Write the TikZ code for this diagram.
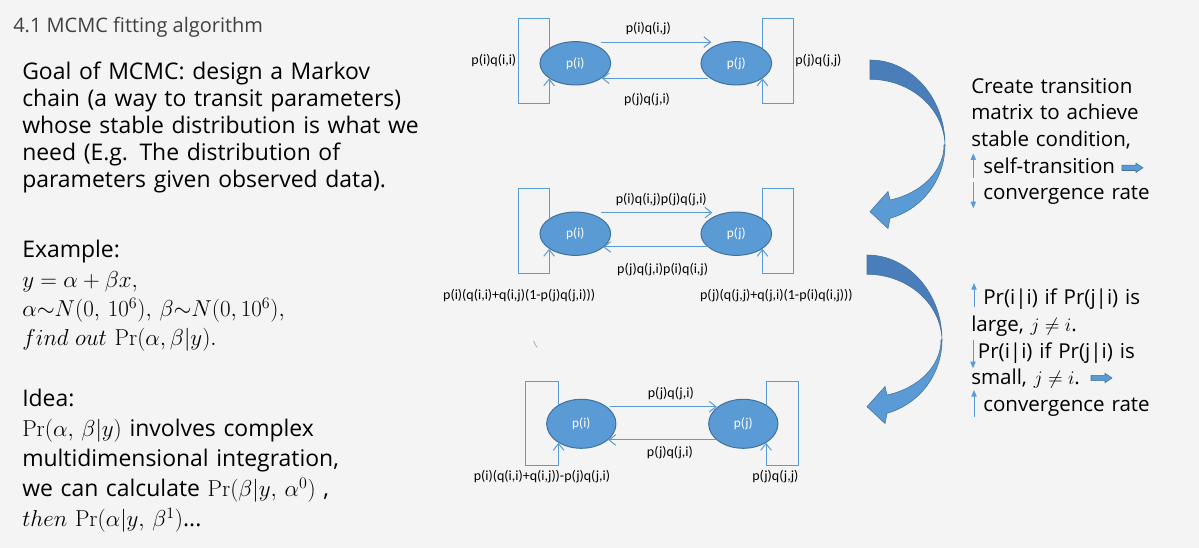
\documentclass[tikz,border=0pt]{standalone}
\usepackage{amsmath}
\usepackage[no-math]{fontspec}
\setmainfont{Open Sans}
\newfontfamily\smallfont{Carlito}
\usepackage{tikz}
\usetikzlibrary{shapes,arrows.meta,calc,positioning}

\definecolor{accent}{HTML}{5B9BD5}
\definecolor{accentdark}{HTML}{41719C}
\definecolor{ribbon}{HTML}{4A7EBB}
\definecolor{slidebg}{HTML}{F4F4F4}
\definecolor{titlegray}{HTML}{404040}

% curved ribbon arrow, back part dark, front part with head light
\newcommand{\bentarrow}{%
  \filldraw[fill=ribbon, draw=accentdark, line width=0.4pt]
    (870,60) .. controls (911.4,60) and (945,98.1) .. (945,145)
    .. controls (944,108.7) and (910.9,79.3) .. (870,79.3) -- cycle;
  \filldraw[fill=accent, draw=accentdark, line width=0.4pt]
    (945,145) .. controls (945,179.1) and (922.5,209.2) .. (890,218.3)
    -- (888,228.5) -- (870,211.7) -- (888,191.5) -- (890,200)
    .. controls (922,193.1) and (944,170.6) .. (944,145) -- cycle;
}
% small block arrow pointing right
\newcommand{\fatarrow}[1]{%
  \filldraw[fill=accent, draw=accentdark, line width=0.4pt, shift={#1}]
    (-10.5,-2.7) -- (3.5,-2.7) -- (3.5,-4.7) -- (10.5,0)
    -- (3.5,4.7) -- (3.5,2.7) -- (-10.5,2.7) -- cycle;
}

\begin{document}
\begin{tikzpicture}[x=0.75pt, y=-0.75pt, node distance=120.75pt]
        \tikzstyle{state} = [ellipse, draw=accentdark, line width=0.75pt, fill=accent,
        text=white, font=\smallfont\fontsize{10}{12}\selectfont,
        minimum width=53pt, minimum height=32.5pt, inner sep=0pt]
        \tikzset{line/.style={draw, line width=0.75pt, color=accent, -{Straight Barb[length=5pt,width=8pt]}}}
        \tikzset{lbl/.style={text=black, font=\smallfont\fontsize{10.5}{12}\selectfont, inner sep=1pt}}
        \tikzset{updown/.style={draw, line width=0.75pt, color=accent, -{Triangle[length=5pt,width=4pt]}}}
        \tikzset{body/.style={anchor=base west, inner sep=0pt, align=left, text width=330pt}}

        \fill [slidebg] (0,0) rectangle (1199,548);
        \useasboundingbox (0,0) rectangle (1199,548);

        % left column
        \node [anchor=base west, inner sep=0pt, text=titlegray,
          font=\fontsize{15}{18}\selectfont] (title) at (13,33) {4.1 MCMC fitting algorithm};
        \node [body, font=\fontsize{17.2}{20.25}\selectfont] (goal) at (22,80)
          {Goal of MCMC: design a Markov\\ chain (a way to transit parameters)\\
           whose stable distribution is what we\\ need (E.g. The distribution of\\
           parameters given observed data).};
        \node [body, font=\fontsize{17.2}{22}\selectfont] (example) at (22,258)
          {Example:\\ $y=\alpha+\beta x,$\\ $\alpha{\sim}N(0,\,10^6),\,\beta{\sim}N(0,10^6),$\\
           $find\;out\,\Pr(\alpha,\beta|y).$};
        \node [body, font=\fontsize{17.2}{22.5}\selectfont] (idea) at (22,406.7)
          {Idea:\\ $\Pr(\alpha,\,\beta|y)$ involves complex\\ multidimensional integration,\\
           we can calculate $\Pr(\beta|y,\,\alpha^0)$ ,\\ $then\,\Pr(\alpha|y,\,\beta^1)$...};

        % first chain
        \node [state] (pi1) at (575.3,63.3) {p(i)};
        \node [state, right of=pi1] (pj1) {p(j)};
        \path [line] ($(pi1.north)+(26,1)$) -- node [lbl, above=4pt, xshift=-6pt] {p(i)q(i,j)} ($(pj1.north)+(-25,1)$);
        \path [line] ($(pj1.south)+(-28,-7.2)$) -- node [lbl, below=10pt, xshift=-6pt] {p(j)q(j,i)} ($(pi1.south)+(26.4,-7.2)$);
        \path [line] (pi1.150) -- ++(0,-30) -| ++(-31,85) node [lbl, pos=0.75, left] {p(i)q(i,i)} -| (pi1.210);
        \path [line] (pj1.30) -- ++(0,-30) -| ++(31,85) node [lbl, pos=0.75, right] {p(j)q(j,j)} -| (pj1.330);

        % second chain
        \node [state] (pi2) at (575.3,233.7) {p(i)};
        \node [state, right of=pi2] (pj2) {p(j)};
        \path [line] ($(pi2.north)+(26,1.1)$) -- node [lbl, above=3.5pt, xshift=3.4pt] {p(i)q(i,j)p(j)q(j,i)} ($(pj2.north)+(-24,1.1)$);
        \path [line] ($(pj2.south)+(-26.5,-8.9)$) -- node [lbl, below=11pt, xshift=4.6pt] {p(j)q(j,i)p(i)q(i,j)} ($(pi2.south)+(28,-8.9)$);
        \path [line] (pi2.150) -- ++(0,-30.5) -| ++(-30.5,85.7) -| (pi2.210) node [lbl, pos=0.25, below=10.5pt, xshift=-11pt] {p(i)(q(i,i)+q(i,j)(1-p(j)q(j,i)))};
        \path [line] (pj2.30) -- ++(0,-30.5) -| ++(30.5,85.7) -| (pj2.330) node [lbl, pos=0.25, below=10.5pt, xshift=-1pt] {p(j)(q(j,j)+q(j,i)(1-p(i)q(i,j)))};

        % third chain
        \node [state, minimum width=52pt, minimum height=36.75pt] (pi3) at (581.3,423.8) {p(i)};
        \node [state, minimum width=52pt, minimum height=36.75pt, right of=pi3, node distance=121.5pt] (pj3) {p(j)};
        \path [line] ($(pi3.north)+(28.7,7.9)$) -- node [lbl, above=4pt, xshift=5.6pt] {p(j)q(j,i)} ($(pj3.north)+(-26.6,7.9)$);
        \path [line] ($(pj3.south)+(-26.6,-8.8)$) -- node [lbl, below=3pt, xshift=5.6pt] {p(j)q(j,i)} ($(pi3.south)+(27,-8.8)$);
        \path [line] (pi3.140) -- ++(0,-23.3) -| ++(-33,84.3) -| (pi3.220) node [lbl, pos=0.25, below=2pt] {p(i)(q(i,i)+q(i,j))-p(j)q(j,i)};
        \path [line] (pj3.40) -- ++(0,-23.3) -| ++(32.7,84.3) -| (pj3.320) node [lbl, pos=0.25, below=2pt, xshift=-5.25pt] {p(j)q(j,j)};

        \draw [gray!70, line width=0.5pt] (533.5,341) -- (537,347.5);

        % bent arrows between the chains
        \bentarrow
        \begin{scope}[shift={(-3,195)}]
          \bentarrow
        \end{scope}

        % right column
        \node [body, text width=180pt, font=\fontsize{15.4}{20}\selectfont] (create) at (971,93.3)
          {Create transition\\ matrix to achieve\\ stable condition,\\
           \hspace*{9pt}self-transition\\ \hspace*{9pt}convergence rate};
        \draw [updown] (973.3,178) -- (973.3,153.3);
        \draw [updown] (973.3,181.7) -- (973.3,208.3);
        \fatarrow{(1132.5,167.8)}

        \node [body, text width=180pt, font=\fontsize{15.4}{20}\selectfont] (rule) at (971,305)
          {\hspace*{9pt}Pr(i|i) if Pr(j|i) is\\ large, $j\neq i$.\\
           \hspace*{5pt}Pr(i|i) if Pr(j|i) is\\ small, $j\neq i$.\\
           \hspace*{9pt}convergence rate};
        \draw [updown] (974,306.7) -- (974,283);
        \draw [updown] (973,340) -- (973,368.3);
        \draw [updown] (974,416.7) -- (974,390);
        \fatarrow{(1101.5,378)}
    \end{tikzpicture}
\end{document}
